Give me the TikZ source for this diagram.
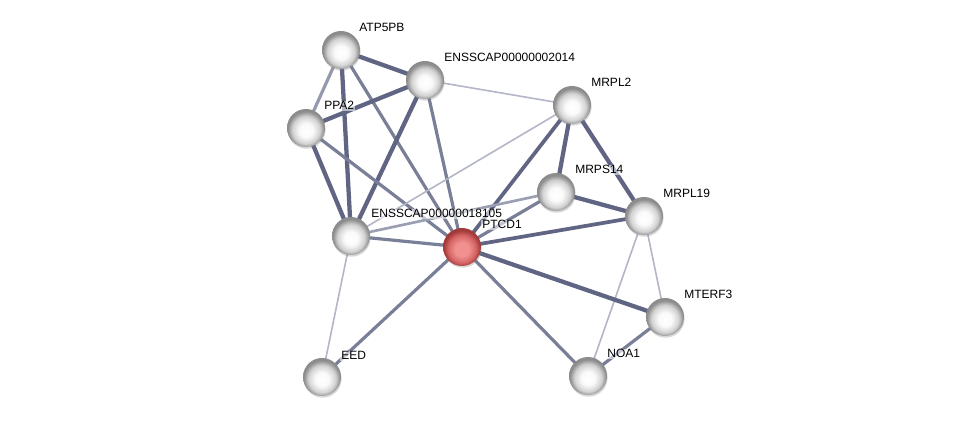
\documentclass[tikz,border=0pt]{standalone}
\usepackage{fontspec}
\setmainfont{Liberation Sans}
\usetikzlibrary{shadows}
\definecolor{edk}{HTML}{5F6582}
\definecolor{edm}{HTML}{7A7F98}
\definecolor{edl}{HTML}{B3B6C6}
\definecolor{rimg}{HTML}{8C8C8C}
\definecolor{midg}{HTML}{D2D2D2}
\definecolor{rimr}{HTML}{A33A3A}
\definecolor{midr}{HTML}{D66666}
\definecolor{cenr}{HTML}{F29090}
\pgfdeclareradialshading{wball}{\pgfpoint{0bp}{-4bp}}{color(0bp)=(white); color(9bp)=(white!96!gray); color(18bp)=(midg); color(24bp)=(rimg); color(50bp)=(rimg)}
\pgfdeclareradialshading{rball}{\pgfpoint{0bp}{-4bp}}{color(0bp)=(cenr); color(9bp)=(cenr); color(18bp)=(midr); color(24bp)=(rimr); color(50bp)=(rimr)}
\tikzset{
  prot/.style={circle,minimum size=38*0.75pt,inner sep=0pt,shading=wball,
    drop shadow={shadow xshift=0.5pt,shadow yshift=-1.3pt,opacity=0.3}},
  qprot/.style={prot,shading=rball},
  lbl/.style={anchor=base west,font=\fontsize{9pt}{10pt}\selectfont,inner sep=0.8pt,
    fill=white,fill opacity=0.55,text opacity=1},
  thick edge/.style={draw=edk,line width=3.2pt},
  mid edge/.style={draw=edm,line width=2.4pt},
  thin edge/.style={draw=edl,line width=1.2pt},
}
\begin{document}
\begin{tikzpicture}[x=0.75pt,y=-0.75pt]
\useasboundingbox (0,0) rectangle (975,423);
\coordinate (ATP) at (341,50);
\coordinate (E2) at (425,80);
\coordinate (PPA) at (306,128);
\coordinate (ML2) at (572,105);
\coordinate (MS14) at (556,192);
\coordinate (ML19) at (644,216);
\coordinate (E18) at (351,236);
\coordinate (PT) at (462,247);
\coordinate (MT) at (665,317);
\coordinate (EED) at (322,377);
\coordinate (NOA) at (588,376);
% edges
\path[thick edge] (ATP) -- (E2);
\path[mid edge,draw=edm!80!white] (ATP) -- (PPA);
\path[thick edge] (ATP) -- (E18);
\path[mid edge] (ATP) -- (PT);
\path[thick edge] (E2) -- (PPA);
\path[thick edge] (E2) -- (E18);
\path[mid edge] (E2) -- (PT);
\path[thin edge] (E2) -- (ML2);
\path[thick edge] (PPA) -- (E18);
\path[mid edge] (PPA) -- (PT);
\path[thin edge] (ML2) -- (E18);
\path[thick edge,line width=2.8pt] (ML2) -- (PT);
\path[thick edge] (ML2) -- (MS14);
\path[thick edge] (ML2) -- (ML19);
\path[thick edge] (MS14) -- (ML19);
\path[mid edge,draw=edm!75!white,line width=2pt] (MS14) -- (E18);
\path[mid edge] (MS14) -- (PT);
\path[thick edge,line width=2.8pt] (ML19) -- (PT);
\path[thin edge] (ML19) -- (NOA);
\path[thin edge] (ML19) -- (MT);
\path[mid edge] (E18) -- (PT);
\path[thin edge] (E18) -- (EED);
\path[mid edge] (PT) -- (EED);
\path[thick edge] (PT) -- (MT);
\path[mid edge] (PT) -- (NOA);
\path[mid edge] (MT) -- (NOA);
% nodes
\node[prot] (nATP) at (ATP) {};
\node[prot] (nE2) at (E2) {};
\node[prot] (nPPA) at (PPA) {};
\node[prot] (nML2) at (ML2) {};
\node[prot] (nMS14) at (MS14) {};
\node[prot] (nML19) at (ML19) {};
\node[prot] (nE18) at (E18) {};
\node[qprot] (nPT) at (PT) {};
\node[prot] (nMT) at (MT) {};
\node[prot] (nEED) at (EED) {};
\node[prot] (nNOA) at (NOA) {};
% labels
\node[lbl] (tATP) at (358,32) {ATP5PB};
\node[lbl] (tE2) at (443,62) {ENSSCAP00000002014};
\node[lbl] (tPPA) at (323,110) {PPA2};
\node[lbl] (tML2) at (590,87) {MRPL2};
\node[lbl] (tMS14) at (574,174) {MRPS14};
\node[lbl] (tML19) at (662,198) {MRPL19};
\node[lbl] (tE18) at (370,218) {ENSSCAP00000018105};
\node[lbl] (tPT) at (481,229) {PTCD1};
\node[lbl] (tMT) at (683,299) {MTERF3};
\node[lbl] (tEED) at (340,360) {EED};
\node[lbl] (tNOA) at (606,358) {NOA1};
\end{tikzpicture}
\end{document}
